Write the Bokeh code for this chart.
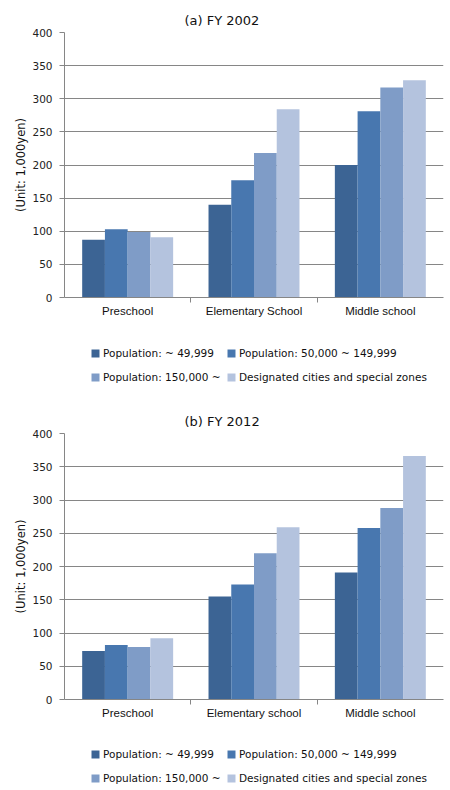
from bokeh.plotting import figure
from bokeh.models import (FactorRange, Range1d, CategoricalAxis, FixedTicker,
                          Legend, LegendItem, ColumnDataSource)
from bokeh.transform import dodge
from bokeh.layouts import column
from bokeh.embed import file_html
from bokeh.resources import INLINE

# ---- data ----
cats_2002 = ["Preschool", "Elementary School", "Middle school"]
cats_2012 = ["Preschool", "Elementary school", "Middle school"]
series_names = ["Population: ~ 49,999", "Population: 50,000 ~ 149,999",
                "Population: 150,000 ~", "Designated cities and special zones"]
small_2002 = [87, 140, 200]
mid_2002 = [103, 177, 281]
large_2002 = [99, 218, 317]
desig_2002 = [91, 284, 328]
small_2012 = [73, 155, 191]
mid_2012 = [82, 173, 258]
large_2012 = [79, 220, 288]
desig_2012 = [92, 259, 366]
y_ticks = [0, 50, 100, 150, 200, 250, 300, 350, 400]
y_label = "(Unit: 1,000yen)"

colors = ["#3C6494", "#4877AF", "#7F9CC7", "#B4C3DE"]
offsets = [-0.27, -0.09, 0.09, 0.27]
GRID = "#868686"
FONT = "DejaVu Sans"
W = 450


def add_bars(p, src):
    rs = []
    for i in range(4):
        r = p.vbar(x=dodge("cat", offsets[i], range=p.x_range), top="s%d" % i, width=0.18,
                   source=src, fill_color=colors[i], line_color=None)
        rs.append(r)
    return rs


def make_chart(title, cats, vals, height, top_border, bottom_border):
    src = ColumnDataSource(dict(cat=cats, s0=vals[0], s1=vals[1], s2=vals[2], s3=vals[3]))
    p = figure(x_range=FactorRange(factors=cats, range_padding=0), y_range=Range1d(0, 400),
               width=W, height=height, output_backend="svg", toolbar_location=None,
               x_axis_location=None, min_border_left=64, min_border_right=7,
               min_border_top=top_border, min_border_bottom=bottom_border)
    p.outline_line_color = None
    p.background_fill_color = "white"
    p.border_fill_color = "white"

    p.title.text = title
    p.title.align = "left"
    p.title.offset = 120
    p.title.text_font = FONT
    p.title.text_font_size = "13px"
    p.title.text_font_style = "normal"
    p.title.text_color = "#111111"
    p.title.standoff = 9

    add_bars(p, src)

    # y axis
    ya = p.yaxis[0]
    ya.ticker = FixedTicker(ticks=y_ticks)
    ya.axis_line_color = GRID
    ya.major_tick_line_color = GRID
    ya.major_tick_out = 5
    ya.major_tick_in = 0
    ya.minor_tick_line_color = None
    ya.major_label_text_font = FONT
    ya.major_label_text_font_size = "10.5px"
    ya.major_label_text_color = "#222222"
    ya.major_label_standoff = 7
    ya.axis_label = y_label
    ya.axis_label_text_font = FONT
    ya.axis_label_text_font_size = "11.5px"
    ya.axis_label_text_font_style = "normal"
    ya.axis_label_text_color = "#111111"
    ya.axis_label_standoff = 1

    p.xgrid.grid_line_color = None
    p.ygrid.ticker = FixedTicker(ticks=y_ticks)
    p.ygrid.grid_line_color = GRID

    # boundary tick marks between categories (factor centers placed on category edges)
    bounds = ["b%d" % k for k in range(len(cats) + 1)]
    p.extra_x_ranges = {"bounds": FactorRange(factors=bounds, range_padding=-0.5,
                                              range_padding_units="absolute")}
    ba = CategoricalAxis(x_range_name="bounds")
    ba.axis_line_color = GRID
    ba.major_tick_line_color = GRID
    ba.major_tick_out = 5
    ba.major_tick_in = 0
    ba.major_label_text_font_size = "1px"
    ba.major_label_text_alpha = 0
    ba.major_label_standoff = 0
    p.add_layout(ba, "below")

    ca = CategoricalAxis()
    ca.axis_line_color = None
    ca.major_tick_line_color = None
    ca.major_tick_out = 0
    ca.major_label_text_font = "Liberation Sans"
    ca.major_label_text_font_size = "11.5px"
    ca.major_label_text_color = "#111111"
    ca.major_label_standoff = 2
    p.add_layout(ca, "below")
    return p, src


def make_legend(cats, src, height, row_ys):
    # separate strip holding the legend; its bar renderers lie outside the visible y-range
    q = figure(x_range=FactorRange(factors=cats, range_padding=0), y_range=Range1d(1000, 1001),
               width=W, height=height, output_backend="svg", toolbar_location=None,
               x_axis_location=None, y_axis_location=None, min_border=0)
    q.outline_line_color = None
    q.xgrid.grid_line_color = None
    q.ygrid.grid_line_color = None
    rs = add_bars(q, src)
    for row in range(2):
        its = [LegendItem(label=series_names[2 * row + k], renderers=[rs[2 * row + k]])
               for k in range(2)]
        leg = Legend(items=its, orientation="horizontal", location=(26, row_ys[row]))
        leg.label_text_font = FONT
        leg.label_text_font_size = "10.5px"
        leg.label_text_color = "#111111"
        leg.glyph_width = 10
        leg.glyph_height = 10
        leg.label_standoff = 3
        leg.label_height = 19
        leg.label_width = 118
        leg.spacing = 5
        leg.padding = 0
        leg.margin = 0
        leg.border_line_color = None
        leg.background_fill_alpha = 0
        q.add_layout(leg, "center")
    return q


p1, s1 = make_chart("(a) FY 2002", cats_2002, [small_2002, mid_2002, large_2002, desig_2002],
                    335, 32, 38)
l1 = make_legend(cats_2002, s1, 57, [29.5, 5.5])
p2, s2 = make_chart("(b) FY 2012", cats_2012, [small_2012, mid_2012, large_2012, desig_2012],
                    343, 41, 36)
l2 = make_legend(cats_2012, s2, 55, [26.5, 2.5])

layout = column(p1, l1, p2, l2, spacing=0)
open("out.html", "w").write(file_html(layout, INLINE))
